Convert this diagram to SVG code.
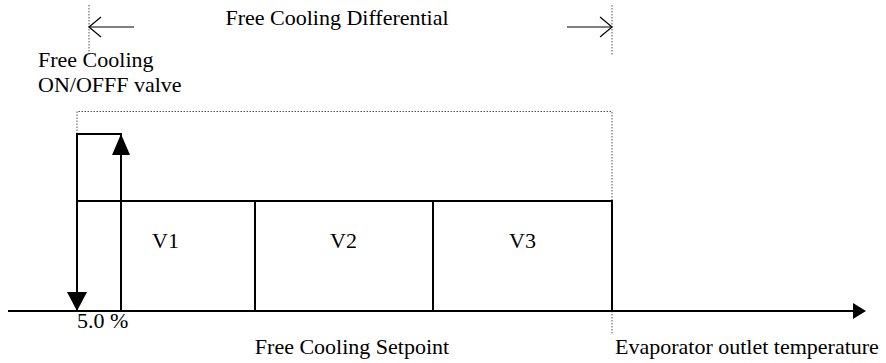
<svg xmlns="http://www.w3.org/2000/svg" width="886" height="363" viewBox="0 0 886 363">
  <style>
    text { font-family: "Liberation Serif", "Times New Roman", serif; font-size: 22px; fill: #000; }
    .solid { fill: none; stroke: #000; stroke-width: 2; }
    .thin { fill: none; stroke: #000; stroke-width: 1.2; }
    .dot { fill: none; stroke: #555; stroke-width: 1; stroke-dasharray: 1.5 1.5; }
    .head { fill: #000; stroke: none; }
  </style>

  <rect width="886" height="363" fill="#fff"/>

  <!-- dotted guide lines -->
  <g id="guides">
    <line class="dot" x1="89" y1="5" x2="89" y2="55"/>
    <line class="dot" x1="612" y1="5" x2="612" y2="55"/>
    <polyline class="dot" points="77,134 77,111.5 612,111.5 612,201"/>
    <line class="dot" x1="612" y1="311" x2="612" y2="334"/>
  </g>

  <!-- differential span arrows -->
  <g id="differential">
    <line class="thin" x1="89" y1="27" x2="134" y2="27"/>
    <polyline class="thin" points="101,17 89,27 101,37"/>
    <line class="thin" x1="567" y1="27" x2="612" y2="27"/>
    <polyline class="thin" points="600,17 612,27 600,37"/>
    <text x="337" y="25" text-anchor="middle">Free Cooling Differential</text>
  </g>

  <g id="valve-label">
    <text x="38" y="67">Free Cooling</text>
    <text x="38" y="92">ON/OFFF valve</text>
  </g>

  <!-- valve step boxes -->
  <g id="v1">
    <rect class="solid" x="77" y="201" width="178" height="110"/>
    <text x="152" y="248">V1</text>
  </g>
  <g id="v2">
    <rect class="solid" x="255" y="201" width="178" height="110"/>
    <text x="343.5" y="248" text-anchor="middle">V2</text>
  </g>
  <g id="v3">
    <rect class="solid" x="433" y="201" width="179" height="110"/>
    <text x="522.5" y="248" text-anchor="middle">V3</text>
  </g>

  <!-- ON/OFF hysteresis loop -->
  <g id="onoff">
    <polyline class="solid" points="77,292 77,134 121,134 121,154"/>
    <line class="solid" x1="121" y1="154" x2="121" y2="311"/>
    <polygon class="head" points="112,155 130,155 121,134"/>
    <polygon class="head" points="67,292 87,292 77,311"/>
  </g>

  <!-- temperature axis -->
  <g id="axis">
    <line class="solid" x1="8" y1="311" x2="854" y2="311"/>
    <polygon class="head" points="853,303 853,319 866,311"/>
  </g>

  <g id="axis-labels">
    <text x="77" y="328">5.0 %</text>
    <text x="352" y="354" text-anchor="middle">Free Cooling Setpoint</text>
    <text x="615" y="354">Evaporator outlet temperature</text>
  </g>
</svg>
